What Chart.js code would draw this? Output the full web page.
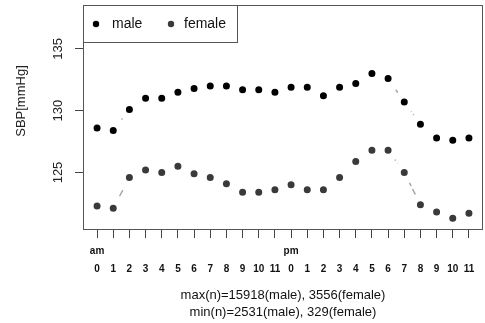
<!DOCTYPE html>
<html>
<head>
<meta charset="utf-8">
<script src="https://cdn.jsdelivr.net/npm/chart.js@4/dist/chart.umd.min.js"></script>
<style>
  html, body { margin: 0; padding: 0; background: #fff; }
  #wrap { width: 485px; height: 323px; }
</style>
</head>
<body>
<div id="wrap"><canvas id="grafico" width="485" height="323"></canvas></div>
<script>
// horas do dia (am 0-11, pm 0-11)
const horas = ['0','1','2','3','4','5','6','7','8','9','10','11',
               '0','1','2','3','4','5','6','7','8','9','10','11'];
const periodos = { 0: 'am', 12: 'pm' };

// PAS media por hora
const masculino = [128.6, 128.4, 130.1, 131.0, 131.0, 131.5, 131.8, 132.0, 132.0, 131.7, 131.7, 131.5,
                   131.9, 131.9, 131.2, 131.9, 132.2, 133.0, 132.6, 130.7, 128.9, 127.8, 127.6, 127.8];
const feminino  = [122.3, 122.1, 124.6, 125.2, 125.0, 125.5, 124.9, 124.6, 124.1, 123.4, 123.4, 123.6,
                   124.0, 123.6, 123.6, 124.6, 125.9, 126.8, 126.8, 125.0, 122.4, 121.8, 121.3, 121.7];

const yTicks = [125, 130, 135];
const legendas = ['male', 'female'];
const cores = ['#000000', '#3a3a3a'];
const tituloX = ['max(n)=15918(male), 3556(female)', 'min(n)=2531(male), 329(female)'];
const tituloY = 'SBP[mmHg]';

const fonte = '"Liberation Sans", Arial, sans-serif';

function serie(valores, cor) {
  return {
    data: valores.map((v, i) => ({ x: i, y: v })),
    borderColor: '#a8a8a8',
    borderWidth: 1.5,
    borderDash: [7, 3],
    // borda branca larga faz o vao em volta do ponto (tipo "b" do R)
    pointRadius: 7.5,
    pointBorderWidth: 8,
    pointBorderColor: '#ffffff',
    pointBackgroundColor: cor,
    pointHoverRadius: 7.5,
    tension: 0
  };
}

// caixa, rotulos do eixo y e legenda no estilo R
const estiloR = {
  id: 'estiloR',
  afterDraw(chart) {
    const ctx = chart.ctx;
    const a = chart.chartArea;
    const y = chart.scales.y;
    ctx.save();

    // caixa do grafico
    ctx.strokeStyle = '#555';
    ctx.lineWidth = 1;
    ctx.strokeRect(Math.round(a.left) + 0.5, Math.round(a.top) + 0.5,
                   Math.round(a.right - a.left) - 1, Math.round(a.bottom - a.top));

    // rotulos y girados
    ctx.fillStyle = '#222';
    ctx.font = '13px ' + fonte;
    ctx.textAlign = 'center';
    ctx.textBaseline = 'middle';
    yTicks.forEach(t => {
      ctx.save();
      ctx.translate(58, y.getPixelForValue(t));
      ctx.rotate(-Math.PI / 2);
      ctx.fillText(String(t), 0, 0);
      ctx.restore();
    });

    // titulo y
    ctx.save();
    ctx.translate(21, 101);
    ctx.rotate(-Math.PI / 2);
    ctx.fillText(tituloY, 0, 0);
    ctx.restore();

    // legenda
    const lx = Math.round(a.left) + 0.5, ly = Math.round(a.top) + 0.5;
    ctx.fillStyle = '#fff';
    ctx.fillRect(lx, ly, 154, 37);
    ctx.strokeStyle = '#555';
    ctx.strokeRect(lx, ly, 154, 37);
    ctx.font = '14px ' + fonte;
    ctx.textAlign = 'left';
    const xs = [[96, 112], [171, 184]];
    legendas.forEach((txt, k) => {
      ctx.fillStyle = cores[k];
      ctx.beginPath();
      ctx.arc(xs[k][0], 24, 3.2, 0, Math.PI * 2);
      ctx.fill();
      ctx.fillStyle = '#111';
      ctx.fillText(txt, xs[k][1], 24);
    });
    ctx.restore();
  }
};

const ctx = document.getElementById('grafico').getContext('2d');
new Chart(ctx, {
  type: 'line',
  data: { datasets: [serie(masculino, cores[0]), serie(feminino, cores[1])] },
  options: {
    responsive: false,
    animation: false,
    layout: { autoPadding: false, padding: { top: 5, right: 2, left: 0, bottom: 0 } },
    plugins: { legend: { display: false }, tooltip: { enabled: false } },
    scales: {
      x: {
        type: 'linear',
        min: -0.87,
        max: 23.87,
        afterBuildTicks: s => { s.ticks = horas.map((h, i) => ({ value: i })); },
        afterFit: s => {
          s.height = 94;
          s.paddingLeft = 0; s.paddingRight = 0;
        },
        grid: { drawOnChartArea: false, drawTicks: true, tickLength: 9, color: '#444', tickColor: '#444' },
        border: { display: false },
        ticks: {
          autoSkip: false,
          maxRotation: 0,
          minRotation: 0,
          padding: 4,
          color: '#111',
          font: { family: fonte, size: 10, weight: 'bold', lineHeight: 1.8 },
          callback: v => [periodos[v] || '', horas[v]]
        },
        title: {
          display: true,
          text: tituloX,
          color: '#111',
          font: { family: fonte, size: 13, lineHeight: 1.3 },
          padding: { top: 2, bottom: 2 }
        }
      },
      y: {
        min: 120.43,
        max: 138.55,
        afterBuildTicks: s => { s.ticks = yTicks.map(v => ({ value: v })); },
        afterFit: s => {
          s.width = 83;
          s.paddingTop = 0; s.paddingBottom = 0;
        },
        grid: { drawOnChartArea: false, drawTicks: true, tickLength: 8, color: '#444', tickColor: '#444' },
        border: { display: false },
        ticks: { display: false }
      }
    }
  },
  plugins: [estiloR]
});
</script>
</body>
</html>
